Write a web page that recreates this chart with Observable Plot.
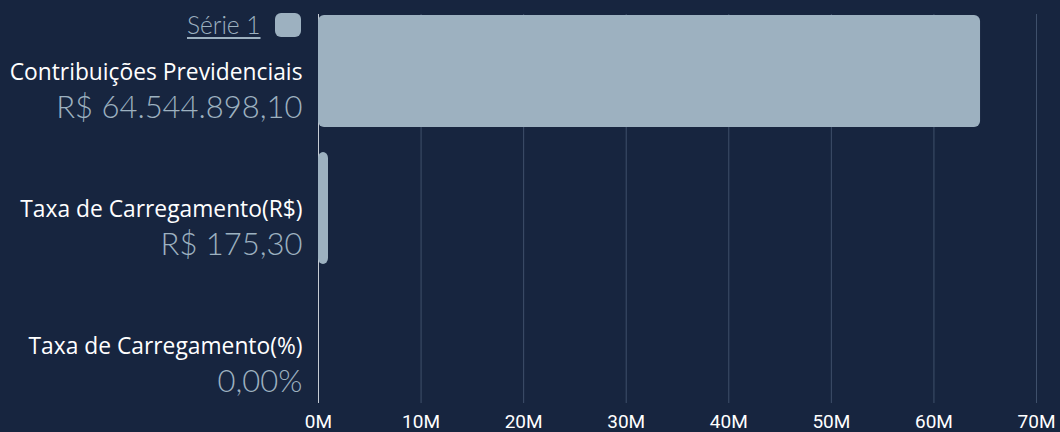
<!DOCTYPE html>
<html>
<head>
<meta charset="utf-8">
<script src="https://cdn.jsdelivr.net/npm/d3@7"></script>
<script src="https://cdn.jsdelivr.net/npm/@observablehq/plot@0.6"></script>
<style>
  html, body { margin: 0; padding: 0; background: #17253f; width: 1060px; height: 432px; overflow: hidden; }
  #wrap { position: relative; width: 1060px; height: 432px; }
  #legend { position: absolute; left: 187px; top: 10px; display: flex; align-items: center; gap: 14px; }
  #legend .lab { font-family: Lato, sans-serif; font-weight: 300; font-size: 24.5px; color: #9db1c0; text-decoration: underline; text-underline-offset: 3px; text-decoration-thickness: 1.5px; }
  #legend .sw { width: 26px; height: 24px; border-radius: 6px; background: #9db1c0; }
</style>
</head>
<body>
<div id="wrap">
  <div id="chart"></div>
  <div id="legend"><span class="lab"></span><span class="sw"></span></div>
</div>
<script>
const seriesName = "Série 1";
const categories = ["Contribuições Previdenciais", "Taxa de Carregamento(R$)", "Taxa de Carregamento(%)"];
const values = [64544898.10, 175.30, 0];
const valueLabels = ["R$ 64.544.898,10", "R$ 175,30", "0,00%"];
const xTicks = [0, 10e6, 20e6, 30e6, 40e6, 50e6, 60e6, 70e6];

const data = categories.map((c, i) => ({cat: c, value: values[i], label: valueLabels[i]}));

const bg = "#17253f";
const barColor = "#9db1c0";

document.querySelector("#legend .lab").textContent = seriesName;

const chart = Plot.plot({
  width: 1060,
  height: 432,
  marginLeft: 318,
  marginRight: 24,
  marginTop: 14,
  marginBottom: 29,
  style: {background: bg, overflow: "visible"},
  x: {domain: [0, 70e6], ticks: xTicks, tickFormat: d => d / 1e6 + "M", label: null},
  y: {domain: categories, paddingInner: 0.18, paddingOuter: 0, axis: null},
  marks: [
    Plot.ruleX(xTicks.slice(1), {stroke: "#3f506b", strokeWidth: 1}),
    Plot.ruleX([0], {stroke: "#c5cbd4", strokeWidth: 1}),
    Plot.barX(data, {x: "value", y: "cat", fill: barColor, rx: 6, className: "bars"}),
    Plot.axisX({ticks: xTicks, tickFormat: d => d / 1e6 + "M", tickSize: 0, tickPadding: 11, fill: "#ffffff", fontSize: 19, fontFamily: "Roboto, sans-serif", label: null}),
    Plot.text(data, {y: "cat", text: "cat", frameAnchor: "left", textAnchor: "end", lineAnchor: "bottom", dx: -16, dy: 8, fill: "#ffffff", fontSize: 22.8, fontFamily: "'Open Sans', sans-serif"}),
    Plot.text(data, {y: "cat", text: "label", frameAnchor: "left", textAnchor: "end", lineAnchor: "bottom", dx: -16, dy: 46, fill: barColor, fontSize: 31, fontWeight: 300, fontFamily: "Lato, sans-serif"})
  ]
});
document.getElementById("chart").appendChild(chart);

// minimum visible width for tiny non-zero bars
const minW = 10;
chart.querySelectorAll("g.bars rect, .bars rect").forEach((r, i) => {
  const v = values[i];
  const w = +r.getAttribute("width");
  if (v > 0 && w < minW) r.setAttribute("width", minW);
});
</script>
</body>
</html>
